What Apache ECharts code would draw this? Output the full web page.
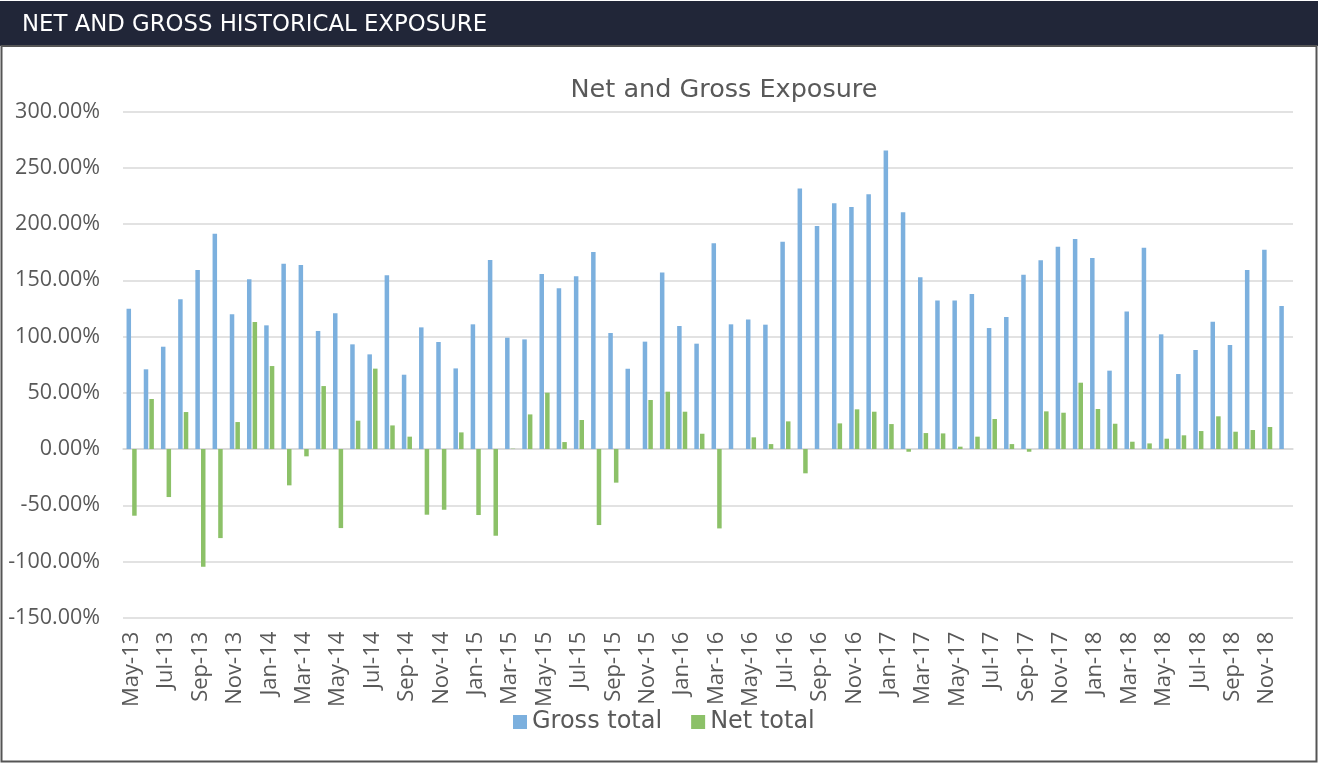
<!DOCTYPE html>
<html>
<head>
<meta charset="utf-8">
<script src="https://cdn.jsdelivr.net/npm/echarts@6/dist/echarts.min.js"></script>
<style>
  html, body { margin: 0; padding: 0; background: #fff; }
  #chart { width: 1318px; height: 764px; }
</style>
</head>
<body>
<div id="chart"></div>
<script>
// Month labels, May-13 .. Dec-18
const months = [
  'May-13','Jun-13','Jul-13','Aug-13','Sep-13','Oct-13','Nov-13','Dec-13',
  'Jan-14','Feb-14','Mar-14','Apr-14','May-14','Jun-14','Jul-14','Aug-14','Sep-14','Oct-14','Nov-14','Dec-14',
  'Jan-15','Feb-15','Mar-15','Apr-15','May-15','Jun-15','Jul-15','Aug-15','Sep-15','Oct-15','Nov-15','Dec-15',
  'Jan-16','Feb-16','Mar-16','Apr-16','May-16','Jun-16','Jul-16','Aug-16','Sep-16','Oct-16','Nov-16','Dec-16',
  'Jan-17','Feb-17','Mar-17','Apr-17','May-17','Jun-17','Jul-17','Aug-17','Sep-17','Oct-17','Nov-17','Dec-17',
  'Jan-18','Feb-18','Mar-18','Apr-18','May-18','Jun-18','Jul-18','Aug-18','Sep-18','Oct-18','Nov-18','Dec-18'
];

// values in %
const grossTotal = [
  124.8, 70.9, 91.0, 133.1, 159.2, 191.5, 119.8, 150.9,
  110.0, 164.8, 163.7, 105.0, 120.7, 93.1, 84.2, 154.5, 66.1, 108.2, 95.2, 71.7,
  110.9, 168.1, 99.0, 97.5, 155.6, 142.9, 153.6, 175.2, 103.2, 71.4, 95.5, 157.1,
  109.4, 93.7, 182.9, 110.9, 115.3, 110.6, 184.4, 231.8, 198.3, 218.5, 215.2, 226.5,
  265.6, 210.5, 152.7, 132.2, 132.2, 137.9, 107.6, 117.4, 155.1, 167.8, 180.0, 186.8,
  169.9, 69.7, 122.4, 179.1, 102.0, 66.7, 88.1, 113.3, 92.5, 159.2, 177.3, 127.2
];

const netTotal = [
  -59.3, 44.5, -42.7, 32.9, -104.7, -79.2, 24.0, 113.0,
  73.8, -32.3, -6.5, 56.0, -70.3, 25.2, 71.5, 21.0, 11.0, -58.4, -54.0, 14.8,
  -58.7, -77.1, 0.3, 30.8, 50.1, 6.2, 25.8, -67.6, -29.9, 0, 43.6, 51.0,
  33.2, 13.6, -70.6, 0, 10.4, 4.4, 24.6, -21.6, 0, 22.8, 35.3, 33.2,
  22.2, -2.4, 14.2, 13.9, 2.1, 11.0, 26.7, 4.4, -2.4, 33.5, 32.3, 59.0,
  35.6, 22.5, 6.5, 5.0, 9.2, 12.2, 16.0, 29.1, 15.4, 16.9, 19.6, 0
];

const seriesNames = ['Gross total', 'Net total'];

const chart = echarts.init(document.getElementById('chart'));

const axisFont = 'Open Sans';
const textFont = 'DejaVu Sans';
const grey = '#595959';

chart.setOption({
  animation: false,
  color: ['#7cb0de', '#8cc168'],
  graphic: [
    // header band
    { type: 'rect', shape: { x: 0, y: 1, width: 1318, height: 45 }, style: { fill: '#212638' }, z: 0 },
    { type: 'text', x: 22, y: 25, style: {
        text: 'NET AND GROSS HISTORICAL EXPOSURE', fill: '#fff',
        font: '22.8px "DejaVu Sans"', verticalAlign: 'middle' } },
    // chart frame
    { type: 'rect', shape: { x: 1.5, y: 46, width: 1315, height: 715.5 },
      style: { fill: 'none', stroke: '#555', lineWidth: 2 } }
  ],
  title: {
    text: 'Net and Gross Exposure',
    left: 719,
    top: 72,
    textAlign: 'center',
    textStyle: { fontFamily: textFont, fontSize: 25.5, fontWeight: 'normal', color: grey }
  },
  legend: {
    data: seriesNames,
    left: 513,
    top: 710,
    padding: 0,
    icon: 'rect',
    itemWidth: 14,
    itemHeight: 14,
    itemGap: 29,
    textStyle: { fontFamily: textFont, fontSize: 24, color: grey }
  },
  grid: { left: 123, right: 25, top: 111.7, bottom: 146.3, containLabel: false },
  xAxis: [
    {
      // axis line + ticks at zero
      type: 'category',
      data: months,
      position: 'bottom',
      axisLine: { onZero: true, lineStyle: { color: '#d9d9d9', width: 1.5 } },
      axisTick: { interval: 1, length: 5, lineStyle: { color: '#d9d9d9', width: 1.5 } },
      axisLabel: { show: false },
      splitLine: { show: false }
    },
    {
      // labels at the bottom of the plot
      type: 'category',
      data: months,
      position: 'bottom',
      axisLine: { show: false, onZero: false },
      axisTick: { show: false },
      axisLabel: {
        interval: 1, rotate: 90, margin: 14,
        fontFamily: axisFont, fontSize: 22, color: grey
      },
      splitLine: { show: false }
    }
  ],
  yAxis: {
    type: 'value',
    min: -150,
    max: 300,
    interval: 50,
    axisLine: { show: false },
    axisTick: { show: false },
    axisLabel: {
      margin: 23, fontFamily: axisFont, fontSize: 21.5, color: grey,
      formatter: v => v.toFixed(2) + '%'
    },
    splitLine: { lineStyle: { color: '#d9d9d9', width: 1.5 } }
  },
  series: [
    { name: seriesNames[0], type: 'bar', data: grossTotal, barWidth: 4.5, barGap: '25%', xAxisIndex: 0 },
    { name: seriesNames[1], type: 'bar', data: netTotal, barWidth: 4.5, barGap: '25%', xAxisIndex: 0 }
  ]
});
</script>
</body>
</html>
